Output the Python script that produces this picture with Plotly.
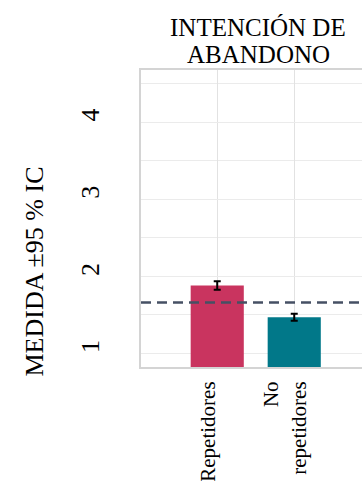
import plotly.graph_objects as go

# Data
categories = ["Repetidores", "No<br>repetidores"]
means = [1.88, 1.47]
ci_half = [0.055, 0.045]
bar_colors = ["#C9345F", "#017889"]
reference_mean = 1.66
y_ticks = [1, 2, 3, 4]
title_lines = ["INTENCIÓN DE", "ABANDONO"]
y_title = "MEDIDA ±95 % IC"

FONT = "Liberation Serif"

fig = go.Figure()
fig.add_trace(go.Bar(
    x=categories, y=means,
    marker=dict(color=bar_colors, line=dict(width=0)),
    width=0.69,
    error_y=dict(type="data", array=ci_half, visible=True,
                 color="black", thickness=2, width=3.5),
    showlegend=False,
))

fig.add_shape(type="line", xref="paper", x0=0, x1=1,
              yref="y", y0=reference_mean, y1=reference_mean,
              line=dict(color="#465064", width=2.5, dash="10px,6px"))

title_annotations = [
    dict(text=line, xref="paper", yref="paper",
         x=(258 - 141) / 221, y=1, xanchor="center", yanchor="bottom",
         yshift=27 * (len(title_lines) - 1 - i), showarrow=False,
         font=dict(family=FONT, size=25, color="black"))
    for i, line in enumerate(title_lines)
]

fig.update_layout(
    width=362, height=481,
    margin=dict(l=141, r=0, t=70, b=114, autoexpand=False),
    paper_bgcolor="white", plot_bgcolor="white",
    font=dict(family=FONT, color="black"),
    xaxis=dict(
        range=[-0.99, 1.88], automargin=False,
        showgrid=True, gridcolor="#e2e2e2", gridwidth=1,
        showline=True, linecolor="#d4d4d4", linewidth=2, mirror=True,
        ticks="", tickangle=-90,
        tickfont=dict(family=FONT, size=21, color="black"),
        ticklabelstandoff=4, ticklabelshift=-9,
        zeroline=False,
    ),
    yaxis=dict(
        range=[0.825, 4.674], automargin=False,
        tickvals=y_ticks,
        showgrid=True, gridcolor="#ebebeb", gridwidth=1,
        minor=dict(dtick=0.5, tick0=0, showgrid=True, gridcolor="#ebebeb", gridwidth=1),
        showline=True, linecolor="#d4d4d4", linewidth=2, mirror=False,
        ticks="", tickangle=-90,
        tickfont=dict(family=FONT, size=26, color="black"),
        ticklabelstandoff=30, ticklabelshift=-3,
        zeroline=False,
    ),
    annotations=title_annotations + [
        dict(text=y_title, xref="paper", yref="paper",
             x=0, y=0.5, xanchor="center", yanchor="middle",
             xshift=-107, yshift=-53, textangle=-90, showarrow=False,
             font=dict(family=FONT, size=26, color="black")),
    ],
)

fig.write_html("out.html")
